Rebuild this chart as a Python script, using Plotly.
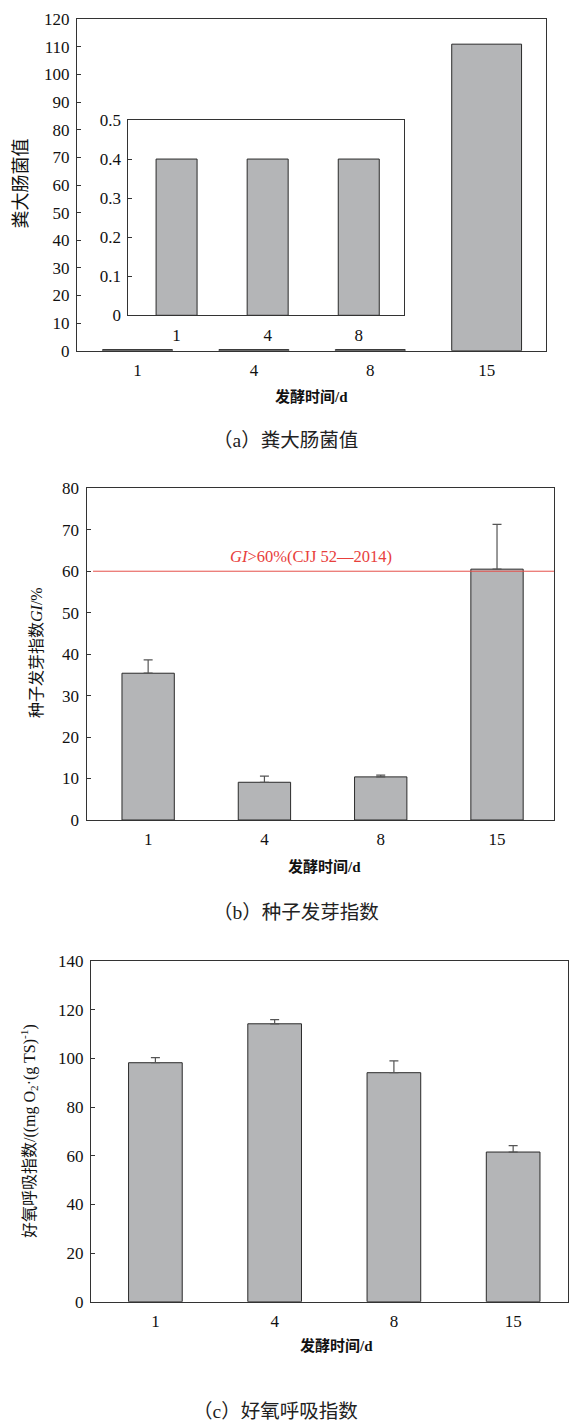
import plotly.graph_objects as go

# ---------------- data ----------------
days = ["1", "4", "8", "15"]
fecal_values = [0.4, 0.4, 0.4, 111]
inset_days = ["1", "4", "8"]
inset_values = [0.4, 0.4, 0.4]
gi_values = [35.4, 9.1, 10.4, 60.5]
gi_err = [3.2, 1.5, 0.4, 10.8]
gi_threshold = 60
air_values = [98.2, 114.2, 94.1, 61.5]
air_err = [2.1, 1.7, 4.9, 2.6]

W, H = 569, 1421
BAR = "#b4b5b7"
EDGE = "#2a2a2a"
AX = "#333333"
SERIF = "Liberation Serif, Noto Sans CJK SC, serif"
CJK = "Liberation Serif, Noto Sans CJK SC, serif"


def px(x):
    return x / W


def py(y):
    return 1 - y / H


fig = go.Figure()

bar_kw = dict(marker=dict(color=BAR, line=dict(color=EDGE, width=1)), showlegend=False)

fig.add_trace(go.Bar(x=days, y=fecal_values, width=0.6, xaxis="x", yaxis="y", **bar_kw))
fig.add_trace(go.Bar(x=inset_days, y=inset_values, width=0.45, xaxis="x2", yaxis="y2", **bar_kw))
fig.add_trace(go.Bar(x=days, y=gi_values, width=0.45, xaxis="x3", yaxis="y3",
                     error_y=dict(type="data", symmetric=False, array=gi_err,
                                  arrayminus=[0] * len(gi_err), color="#555555",
                                  thickness=1.2, width=4.5),
                     **bar_kw))
fig.add_trace(go.Bar(x=days, y=air_values, width=0.45, xaxis="x4", yaxis="y4",
                     error_y=dict(type="data", symmetric=False, array=air_err,
                                  arrayminus=[0] * len(air_err), color="#555555",
                                  thickness=1.2, width=4.5),
                     **bar_kw))


def tickfont():
    return dict(family=SERIF, size=17, color="#111111")


def xaxis(domain, anchor, rng):
    return dict(domain=domain, anchor=anchor, type="category", range=rng,
                showline=True, linecolor=AX, linewidth=1, mirror=True,
                ticks="", showgrid=False, zeroline=False, tickfont=tickfont(),
                ticklabelstandoff=4, fixedrange=True, automargin=False)


def yaxis(domain, anchor, rng, dtick):
    return dict(domain=domain, anchor=anchor, range=rng, dtick=dtick, tick0=0,
                showline=True, linecolor=AX, linewidth=1, mirror=True,
                ticks="inside", ticklen=4, tickcolor=AX, showgrid=False,
                zeroline=False, tickfont=tickfont(), ticklabelstandoff=3,
                fixedrange=True, automargin=False)


fig.update_layout(
    width=W, height=H, autosize=False,
    margin=dict(l=0, r=0, t=0, b=0, pad=0),
    font=dict(family=SERIF, color="#111111"),
    paper_bgcolor="white", plot_bgcolor="white",
    bargap=0.4,
    xaxis=xaxis([px(77), px(546)], "y", [-0.52, 3.51]),
    yaxis=yaxis([py(350.7), py(19.3)], "x", [0, 120], 10),
    xaxis2=xaxis([px(128.3), px(404.3)], "y2", [-0.53, 2.5]),
    yaxis2=yaxis([py(315.3), py(120)], "x2", [0, 0.5], 0.1),
    xaxis3=xaxis([px(86.5), px(554)], "y3", [-0.53, 3.49]),
    yaxis3=yaxis([py(820), py(488.3)], "x3", [0, 80], 10),
    xaxis4=xaxis([px(91), px(568)], "y4", [-0.54, 3.46]),
    yaxis4=yaxis([py(1301.7), py(961)], "x4", [0, 140], 20),
)

# threshold line in panel (b)
fig.add_shape(type="line", xref="x3 domain", yref="y3", x0=0.014, x1=1,
              y0=gi_threshold, y1=gi_threshold,
              line=dict(color="#e5504a", width=1))

ann = []


def note(text, x, y, size, angle=0, color="#111111", family=CJK):
    ann.append(dict(text=text, x=px(x), y=py(y), xref="paper", yref="paper",
                    showarrow=False, textangle=angle, xanchor="center",
                    yanchor="middle", font=dict(family=family, size=size, color=color)))


note("<i>GI</i>>60%(CJJ 52—2014)", 311, 556, 16.5, color="#e8403c", family=SERIF)

# y titles
note("粪大肠菌值", 20, 183.5, 18, angle=-90)
note("种子发芽指数<i>GI</i>/%", 36, 653, 16, angle=-90)
note("好氧呼吸指数/((mg O<sub>2</sub>·(g TS)<sup>-1</sup>)", 29, 1131, 16, angle=-90)

# x titles
note("<b>发酵时间/d</b>", 311, 396.7, 15)
note("<b>发酵时间/d</b>", 324, 866.7, 15)
note("<b>发酵时间/d</b>", 336, 1345, 15)

# captions
note("（a）粪大肠菌值", 285, 440, 19.5, color="#222222")
note("（b）种子发芽指数", 296, 912, 19.5, color="#222222")
note("（c）好氧呼吸指数", 275, 1411, 19.5, color="#222222")

fig.update_layout(annotations=ann)

fig.write_html(
    "out.html",
    config={"displayModeBar": False, "staticPlot": True},
    post_script="document.body.style.margin='0';document.body.style.padding='0';"
                "document.body.style.overflow='hidden';",
)
